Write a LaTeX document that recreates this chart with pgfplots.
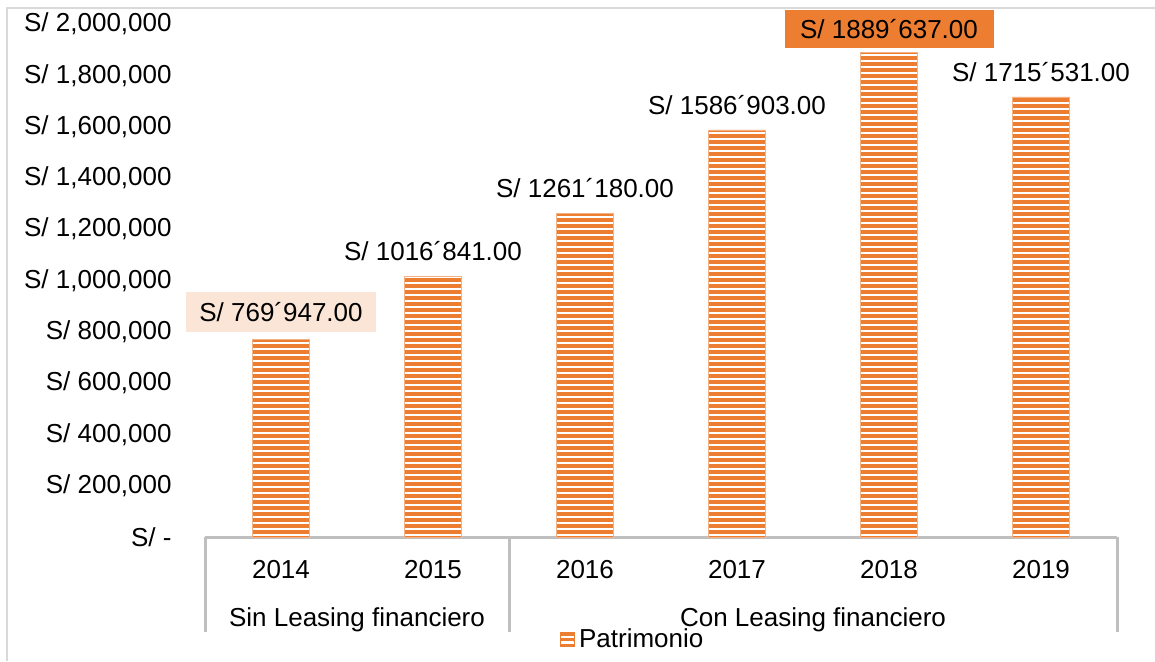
\documentclass[border=0pt]{standalone}
\usepackage{fontspec}
\setmainfont{Liberation Sans}
\usepackage{pgfplots}
\pgfplotsset{compat=1.18}
\usetikzlibrary{patterns.meta}
\definecolor{barorange}{HTML}{ED7D31}
\definecolor{peach}{HTML}{FBE5D6}
\definecolor{axisgray}{HTML}{BFBFBF}
\definecolor{framegray}{HTML}{D9D9D9}

\begin{document}
\fontsize{13}{15.6}\selectfont
\begin{tikzpicture}
\useasboundingbox (0,0) rectangle (577.5pt,330.5pt);
\draw[framegray, line width=1pt] (3.5pt,0) -- (3.5pt,326.5pt) -- (577.5pt,326.5pt);
\begin{axis}[
  at={(102.5pt,62pt)}, anchor=south west,
  scale only axis, width=456pt, height=256.5pt,
  xmin=-0.5, xmax=5.5, ymin=0, ymax=2000000,
  clip=false,
  axis lines*=left,
  y axis line style={draw=none},
  x axis line style={axisgray, line width=1.5pt},
  major tick length=0pt,
  xtick={0,1,2,3,4,5},
  xticklabels={2014,2015,2016,2017,2018,2019},
  xticklabel style={anchor=center, yshift=-16.5pt, inner sep=0pt},
  extra x ticks={-0.5,1.5,5.5},
  extra x tick labels={},
  extra x tick style={major tick length=47.5pt, tick align=outside,
    tick style={axisgray, line width=1.5pt}},
  ytick={0,200000,400000,600000,800000,1000000,1200000,1400000,1600000,1800000,2000000},
  yticklabels={{S/ -},{S/ 200,000},{S/ 400,000},{S/ 600,000},{S/ 800,000},{S/ 1,000,000},
    {S/ 1,200,000},{S/ 1,400,000},{S/ 1,600,000},{S/ 1,800,000},{S/ 2,000,000}},
  yticklabel style={anchor=east, inner sep=0pt, xshift=-16.5pt},
  scaled y ticks=false,
  legend style={at={(0.47,-0.2)}, anchor=center, draw=none, fill=none,
    inner sep=0pt, legend cell align=left},
  legend image code/.code={\fill[barorange, postaction={pattern={Lines[angle=0,distance=2.4pt,line width=0.6pt]}, pattern color=white}] (0pt,-3.5pt) rectangle (7pt,3.5pt);},
]
% Patrimonio
\addplot[ybar, bar width=28.5pt, bar shift=0pt, draw=barorange!60, line width=0.3pt,
  fill=barorange,
  postaction={pattern={Lines[angle=0,distance=3pt,line width=0.6pt]}, pattern color=white}]
  coordinates {(0,769947) (1,1016841) (2,1261180) (3,1586903) (4,1889637) (5,1715531)};
\addlegendentry{Patrimonio}

% plain value labels
\addplot[ybar, bar width=28.5pt, bar shift=0pt, draw=none, fill=none, forget plot,
  point meta=explicit symbolic, nodes near coords,
  nodes near coords style={anchor=center, yshift=12.5pt, inner sep=0pt, text=black}]
  coordinates {(1,1016841) [S/ 1016´841.00] (2,1261180) [S/ 1261´180.00]
    (3,1586903) [S/ 1586´903.00] (5,1715531) [S/ 1715´531.00]};

% boxed labels
\addplot[ybar, bar width=28.5pt, bar shift=0pt, draw=none, fill=none, forget plot,
  point meta=explicit symbolic, nodes near coords,
  nodes near coords style={anchor=center, yshift=13.75pt, fill=peach, text=black,
    inner xsep=6.6pt, inner ysep=5.5pt, text height=9pt, text depth=0pt}]
  coordinates {(0,769947) [S/ 769´947.00]};
\addplot[ybar, bar width=28.5pt, bar shift=0pt, draw=none, fill=none, forget plot,
  point meta=explicit symbolic, nodes near coords,
  nodes near coords style={anchor=center, yshift=11.5pt, fill=barorange, text=black,
    inner xsep=7.8pt, inner ysep=5pt, text height=9pt, text depth=0pt}]
  coordinates {(4,1889637) [S/ 1889´637.00]};

\node[anchor=base] at (axis cs:0.5,0) [yshift=-44.6pt] {Sin Leasing financiero};
\node[anchor=base] at (axis cs:3.5,0) [yshift=-44.6pt] {Con Leasing financiero};
\end{axis}
\end{tikzpicture}
\end{document}
